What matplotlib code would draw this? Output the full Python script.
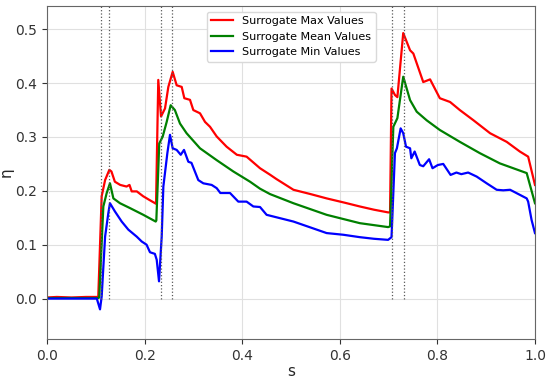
import matplotlib
matplotlib.use('Agg')
import matplotlib.pyplot as plt

# Surrogate max values (s, eta)
s_max = [0.0, 0.02, 0.05, 0.08, 0.105, 0.112, 0.119, 0.1277, 0.132, 0.139, 0.15,
         0.163, 0.169, 0.1735, 0.184, 0.197, 0.21, 0.2234, 0.228, 0.2336, 0.2418,
         0.2486, 0.2575, 0.2657, 0.276, 0.2814, 0.293, 0.2998, 0.3135, 0.3238,
         0.334, 0.3477, 0.368, 0.389, 0.409, 0.4365, 0.457, 0.47, 0.505, 0.54,
         0.573, 0.61, 0.641, 0.67, 0.699, 0.703, 0.706, 0.713, 0.718, 0.73,
         0.744, 0.7507, 0.771, 0.785, 0.805, 0.826, 0.846, 0.874, 0.908, 0.942,
         0.969, 0.986, 1.0]
eta_max = [0.002, 0.003, 0.002, 0.003, 0.003, 0.19, 0.22, 0.239, 0.236, 0.217, 0.211,
           0.208, 0.211, 0.199, 0.199, 0.19, 0.183, 0.176, 0.406, 0.338, 0.353,
           0.393, 0.421, 0.396, 0.393, 0.372, 0.369, 0.35, 0.344, 0.328,
           0.319, 0.301, 0.282, 0.267, 0.2635, 0.242, 0.23, 0.222, 0.202, 0.194,
           0.186, 0.178, 0.171, 0.165, 0.160, 0.160, 0.390, 0.378, 0.374, 0.493,
           0.461, 0.455, 0.402, 0.407, 0.372, 0.365, 0.35, 0.331, 0.307, 0.291,
           0.273, 0.2635, 0.211]

# Surrogate mean values
s_mean = [0.0, 0.105, 0.107, 0.1154, 0.1223, 0.129, 0.136, 0.1496, 0.17, 0.1973,
          0.2227, 0.224, 0.23, 0.237, 0.2452, 0.2534, 0.262, 0.2725, 0.286, 0.3135,
          0.3477, 0.3818, 0.416, 0.4365, 0.457, 0.505, 0.573, 0.641, 0.699, 0.703,
          0.7097, 0.718, 0.73, 0.744, 0.7576, 0.778, 0.805, 0.846, 0.887, 0.928,
          0.983, 1.0]
eta_mean = [0.001, 0.001, 0.002, 0.171, 0.196, 0.214, 0.186, 0.177, 0.168, 0.1555,
            0.143, 0.145, 0.288, 0.3006, 0.328, 0.359, 0.35, 0.325, 0.307, 0.279,
            0.257, 0.236, 0.217, 0.204, 0.194, 0.177, 0.1555, 0.140, 0.1327, 0.134,
            0.319, 0.335, 0.412, 0.3685, 0.347, 0.331, 0.313, 0.291, 0.27, 0.251,
            0.233, 0.177]

# Surrogate min values
s_min = [0.0, 0.102, 0.1086, 0.112, 0.119, 0.1257, 0.129, 0.139, 0.153, 0.1666,
         0.1838, 0.194, 0.204, 0.211, 0.221, 0.2248, 0.2295, 0.235, 0.2384, 0.2466,
         0.252, 0.2575, 0.2657, 0.274, 0.2807, 0.2896, 0.296, 0.31, 0.3203, 0.3374,
         0.3477, 0.3552, 0.375, 0.392, 0.409, 0.4228, 0.4365, 0.45, 0.505, 0.54,
         0.573, 0.607, 0.641, 0.67, 0.699, 0.706, 0.713, 0.717, 0.7247, 0.73,
         0.7357, 0.744, 0.7466, 0.7534, 0.764, 0.771, 0.783, 0.79, 0.801, 0.812,
         0.827, 0.839, 0.849, 0.863, 0.8805, 0.901, 0.9215, 0.935, 0.949, 0.969,
         0.983, 0.986, 0.993, 1.0]
eta_min = [0.0, 0.0, -0.02, 0.004, 0.115, 0.159, 0.177, 0.162, 0.143, 0.128,
           0.115, 0.106, 0.10, 0.086, 0.083, 0.072, 0.032, 0.115, 0.208, 0.27,
           0.304, 0.279, 0.276, 0.267, 0.276, 0.254, 0.252, 0.22, 0.214, 0.211,
           0.205, 0.196, 0.196, 0.18, 0.18, 0.171, 0.17, 0.1555, 0.143, 0.132,
           0.1216, 0.1185, 0.114, 0.111, 0.109, 0.114, 0.27, 0.279, 0.316, 0.307,
           0.282, 0.279, 0.2605, 0.273, 0.248, 0.2457, 0.2587, 0.242, 0.248, 0.25,
           0.2296, 0.234, 0.231, 0.234, 0.2265, 0.214, 0.202, 0.201, 0.202, 0.1926,
           0.186, 0.18, 0.146, 0.1216]

# dotted markers
s_marks = [0.1107, 0.128, 0.233, 0.256, 0.7076, 0.7316]

ylo, yhi = -0.075, 0.543

fig = plt.figure(figsize=(5.5, 3.83), dpi=100)
ax = fig.add_axes([0.0855, 0.115, 0.8872, 0.869])

ax.plot(s_max, eta_max, color='red', lw=1.6, label='Surrogate Max Values')
ax.plot(s_mean, eta_mean, color='green', lw=1.6, label='Surrogate Mean Values')
ax.plot(s_min, eta_min, color='blue', lw=1.6, label='Surrogate Min Values')
ax.vlines(s_marks, 0, yhi, colors='0.35', linestyles=':', lw=0.9)

ax.set_xlim(0, 1)
ax.set_ylim(ylo, yhi)
ax.set_xticks([0.0, 0.2, 0.4, 0.6, 0.8, 1.0])
ax.set_yticks([0.0, 0.1, 0.2, 0.3, 0.4, 0.5])
ax.grid(True, color='0.88', lw=0.8)
ax.set_axisbelow(True)
ax.tick_params(labelsize=10, colors='0.2')
for sp in ax.spines.values():
    sp.set_color('0.4')
ax.set_xlabel('s', fontsize=11, color='0.15', labelpad=1)
ax.set_ylabel('η', fontsize=11, color='0.15', labelpad=1)
ax.legend(loc='upper center', fontsize=8, framealpha=1, edgecolor='0.85')

fig.savefig('out.png')
